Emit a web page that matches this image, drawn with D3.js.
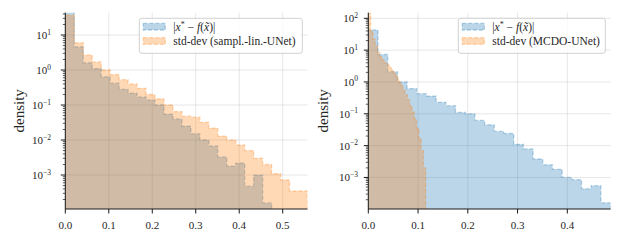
<!DOCTYPE html>
<html lang="en">
<head>
  <meta charset="utf-8">
  <title>Error vs std-dev histograms</title>
  <script src="https://d3js.org/d3.v7.min.js"></script>
  <style>
    body { margin: 0; background: #fff; }
    text { font-family: "Liberation Serif", "DejaVu Serif", serif; fill: #262626; }
  </style>
</head>
<body>
  <div id="my_dataviz"></div>
  <script>
    // ---- data (densities per histogram bin) ----
    // left panel: sampl.-lin.-UNet
    const leftErrRange = [0, 0.4745];
    const leftErr = [60, 4.6, 1.6, 1.1, 0.64, 0.42, 0.28, 0.22, 0.17, 0.14, 0.10, 0.055, 0.040,
      0.025, 0.015, 0.010, 0.0068, 0.0033, 0.0018, 0.0022, 0.00048, 0.0010, 0.00016];
    const leftStdRange = [0, 0.557];
    const leftStd = [37, 6.0, 2.7, 1.7, 1.0, 0.74, 0.53, 0.40, 0.30, 0.20, 0.15, 0.10, 0.065,
      0.048, 0.045, 0.032, 0.022, 0.013, 0.010, 0.0072, 0.0050, 0.0030, 0.0020, 0.0011,
      0.00072, 0.00035, 0.00035];

    // right panel: MCDO-UNet
    const rightErrRange = [0, 0.487];
    const rightErr = [43, 7.3, 2.1, 1.0, 0.62, 0.43, 0.36, 0.23, 0.18, 0.11, 0.10, 0.062, 0.045,
      0.028, 0.024, 0.011, 0.0079, 0.0038, 0.0025, 0.0018, 0.0010, 0.00085, 0.00044, 0.00055, 0.00016];
    const rightStdRange = [0, 0.1154];
    const rightStd = [180, 40, 22, 13.5, 8.5, 6.2, 4.9, 4.0, 3.5, 3.0, 2.4, 1.9, 1.5, 1.07, 0.8,
      0.56, 0.40, 0.28, 0.18, 0.115, 0.07, 0.035, 0.017, 0.007, 0.002];

    const xTicksLeft = [0, 0.1, 0.2, 0.3, 0.4, 0.5];
    const xTicksRight = [0, 0.1, 0.2, 0.3, 0.4];
    const legendLabels = ["std-dev (sampl.-lin.-UNet)", "std-dev (MCDO-UNet)"];

    // ---- layout ----
    const width = 623, height = 245;
    const plotTop = 12.7, plotBottom = 209;
    const blue = "#1f77b4", orange = "#ff7f0e";

    const svg = d3.select("#my_dataviz")
      .append("svg")
      .attr("width", width)
      .attr("height", height);

    const panels = [
      { x0: 65.3, x1: 307.5, xmax: 0.557, ymin: 1.07e-4, ymax: 43.4, xticks: xTicksLeft,
        err: leftErr, errRange: leftErrRange, std: leftStd, stdRange: leftStdRange,
        label: legendLabels[0], legend: [139.3, 163], ylabX: 19, tickLabX: 51 },
      { x0: 368.3, x1: 610.6, xmax: 0.487, ymin: 1.02e-4, ymax: 150, xticks: xTicksRight,
        err: rightErr, errRange: rightErrRange, std: rightStd, stdRange: rightStdRange,
        label: legendLabels[1], legend: [458.3, 147], ylabX: 323, tickLabX: 358 }
    ];

    panels.forEach(function (p, i) {
      const x = d3.scaleLinear().domain([0, p.xmax]).range([p.x0, p.x1]);
      const y = d3.scaleLog().domain([p.ymin, p.ymax]).range([plotBottom, plotTop]);
      const g = svg.append("g");

      // log ticks
      const major = [], minor = [];
      for (let e = -5; e <= 3; e++) {
        for (let m = 1; m <= 9; m++) {
          const v = m * Math.pow(10, e);
          if (v < p.ymin || v > p.ymax) continue;
          if (m === 1) major.push(e); else minor.push(v);
        }
      }

      // grid
      g.selectAll(".gx").data(p.xticks).join("line")
        .attr("x1", d => x(d)).attr("x2", d => x(d))
        .attr("y1", plotTop).attr("y2", plotBottom)
        .attr("stroke", "#b0b0b0").attr("stroke-opacity", 0.35).attr("stroke-width", 0.9);
      g.selectAll(".gy").data(major).join("line")
        .attr("x1", p.x0).attr("x2", p.x1)
        .attr("y1", d => y(Math.pow(10, d))).attr("y2", d => y(Math.pow(10, d)))
        .attr("stroke", "#b0b0b0").attr("stroke-opacity", 0.35).attr("stroke-width", 0.9);

      // clip
      const clipId = "clip" + i;
      svg.append("clipPath").attr("id", clipId)
        .append("rect").attr("x", p.x0).attr("y", plotTop)
        .attr("width", p.x1 - p.x0).attr("height", plotBottom - plotTop);

      // step histogram path
      function stepPath(vals, range) {
        const w = (range[1] - range[0]) / vals.length;
        const base = plotBottom + 3;
        let path = "M" + x(range[0]) + "," + base;
        vals.forEach(function (v, k) {
          const yy = y(v);
          path += "L" + x(range[0] + k * w) + "," + yy + "L" + x(range[0] + (k + 1) * w) + "," + yy;
        });
        path += "L" + x(range[1]) + "," + base;
        return path;
      }

      const hg = g.append("g").attr("clip-path", "url(#" + clipId + ")");
      [[p.err, p.errRange, blue], [p.std, p.stdRange, orange]].forEach(function (h) {
        const d = stepPath(h[0], h[1]);
        hg.append("path").attr("d", d + "Z")
          .attr("fill", h[2]).attr("fill-opacity", 0.3).attr("stroke", "none");
        hg.append("path").attr("d", d)
          .attr("fill", "none").attr("stroke", h[2]).attr("stroke-opacity", 0.3)
          .attr("stroke-width", 1.3).attr("stroke-dasharray", "4,2");
      });

      // spines
      g.append("line").attr("x1", p.x0).attr("x2", p.x0).attr("y1", plotTop).attr("y2", plotBottom)
        .attr("stroke", "#1a1a1a").attr("stroke-width", 1);
      g.append("line").attr("x1", p.x0).attr("x2", p.x1).attr("y1", plotBottom).attr("y2", plotBottom)
        .attr("stroke", "#1a1a1a").attr("stroke-width", 1);

      // x ticks
      g.selectAll(".tx").data(p.xticks).join("line")
        .attr("x1", d => x(d)).attr("x2", d => x(d))
        .attr("y1", plotBottom).attr("y2", plotBottom + 4.5)
        .attr("stroke", "#1a1a1a").attr("stroke-width", 1);
      g.selectAll(".lx").data(p.xticks).join("text")
        .attr("x", d => x(d)).attr("y", plotBottom + 20)
        .attr("text-anchor", "middle").attr("font-size", 11)
        .text(d3.format(".1f"));

      // y ticks
      g.selectAll(".tym").data(minor).join("line")
        .attr("x1", p.x0 - 2.5).attr("x2", p.x0)
        .attr("y1", d => y(d)).attr("y2", d => y(d))
        .attr("stroke", "#1a1a1a").attr("stroke-width", 0.7);
      g.selectAll(".ty").data(major).join("line")
        .attr("x1", p.x0 - 4.5).attr("x2", p.x0)
        .attr("y1", d => y(Math.pow(10, d))).attr("y2", d => y(Math.pow(10, d)))
        .attr("stroke", "#1a1a1a").attr("stroke-width", 1);
      const yl = g.selectAll(".ly").data(major).join("text")
        .attr("x", p.tickLabX).attr("y", d => y(Math.pow(10, d)) + 4)
        .attr("text-anchor", "end").attr("font-size", 11);
      yl.append("tspan").text("10");
      yl.append("tspan").attr("dy", -4.5).attr("font-size", 7.5)
        .text(d => (d < 0 ? "\u2212" : "") + Math.abs(d));

      // y label
      g.append("text")
        .attr("transform", "translate(" + p.ylabX + "," + ((plotTop + plotBottom) / 2) + ") rotate(-90)")
        .attr("text-anchor", "middle").attr("dy", "0.35em").attr("font-size", 15)
        .text("density");

      // legend
      const lx = p.legend[0], lw = p.legend[1], ly = 18.3, lh = 35;
      g.append("rect").attr("x", lx).attr("y", ly).attr("width", lw).attr("height", lh)
        .attr("rx", 2.5).attr("fill", "#fff").attr("fill-opacity", 0.8)
        .attr("stroke", "#cccccc").attr("stroke-width", 0.9);
      [blue, orange].forEach(function (c, k) {
        const cy = ly + 8.4 + k * 14.3;
        g.append("rect").attr("x", lx + 4).attr("y", cy - 3.3).attr("width", 22).attr("height", 6.6)
          .attr("fill", c).attr("fill-opacity", 0.3)
          .attr("stroke", c).attr("stroke-opacity", 0.3).attr("stroke-width", 1.3)
          .attr("stroke-dasharray", "4,2");
      });
      const t1 = g.append("text").attr("x", lx + 34).attr("y", ly + 12.4).attr("font-size", 11.5);
      t1.append("tspan").text("|");
      t1.append("tspan").attr("font-style", "italic").text("x");
      t1.append("tspan").attr("dy", -4).attr("font-size", 8).text("*");
      t1.append("tspan").attr("dy", 4).text(" \u2212 ");
      t1.append("tspan").attr("font-style", "italic").text("f");
      t1.append("tspan").text("(");
      t1.append("tspan").attr("font-style", "italic").text("x\u0303");
      t1.append("tspan").text(")|");
      g.append("text").attr("x", lx + 34).attr("y", ly + 26.7).attr("font-size", 11.5)
        .text(p.label);
    });
  </script>
</body>
</html>
